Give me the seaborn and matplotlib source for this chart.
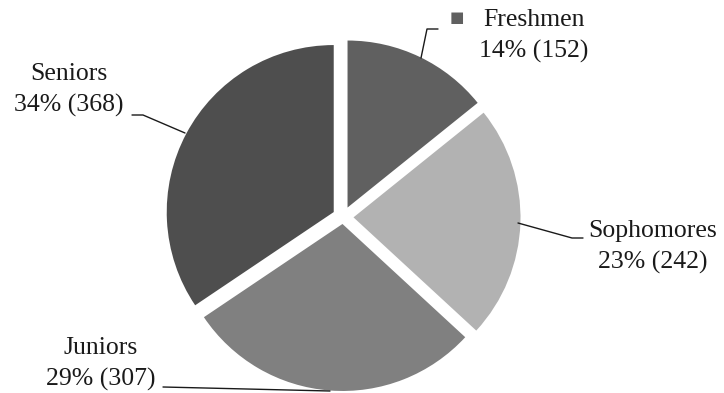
import matplotlib
matplotlib.use("Agg")
import matplotlib.pyplot as plt
import seaborn as sns

# Student counts by class year
classes = ["Freshmen", "Sophomores", "Juniors", "Seniors"]
counts = [152, 242, 307, 368]
percents = [14, 23, 29, 34]
shades = ["#606060", "#b2b2b2", "#808080", "#4e4e4e"]

sns.set_style("white")
plt.rcParams["font.family"] = ["Liberation Serif", "DejaVu Serif"]

W, H = 724, 393
fig = plt.figure(figsize=(W / 100, H / 100), dpi=100)
ax = fig.add_axes([0, 0, 1, 1])

# pie laid out in pixel units (y axis points down, so angles run clockwise visually)
cx, cy, radius = 343, 217, 167
pull = [10.5, 10.5, 7, 10.5]
ax.pie(counts, colors=shades, startangle=-90, counterclock=True,
       center=(cx, cy), radius=radius, explode=pull, frame=True,
       wedgeprops=dict(linewidth=0))
ax.set_xlim(0, W)
ax.set_ylim(H, 0)
ax.set_aspect("equal")
ax.axis("off")

labels = [f"{c}\n{p}% ({n})" for c, p, n in zip(classes, percents, counts)]
label_pos = [(534, 36), (653, 247), (101, 364), (69, 90)]
text_kw = dict(ha="center", va="center", fontsize=18.5, color="#1a1a1a",
               linespacing=1.45)
for (x, y), lab in zip(label_pos, labels):
    ax.text(x, y, lab, **text_kw)

# leader lines from labels to slices
leaders = [
    [(438, 29), (427, 29), (421, 58)],
    [(583, 238), (572, 238), (518, 223)],
    [(163, 387), (330, 391)],
    [(132, 115), (143, 115), (185, 133)],
]
for pts in leaders:
    xs, ys = zip(*pts)
    ax.plot(xs, ys, color="#1a1a1a", linewidth=1.0)

# small key square beside the first label
ax.text(457, 18, "\u25a0", ha="center", va="center", fontsize=11,
        color=shades[0], family="DejaVu Sans")

fig.savefig("out.png", dpi=100)
